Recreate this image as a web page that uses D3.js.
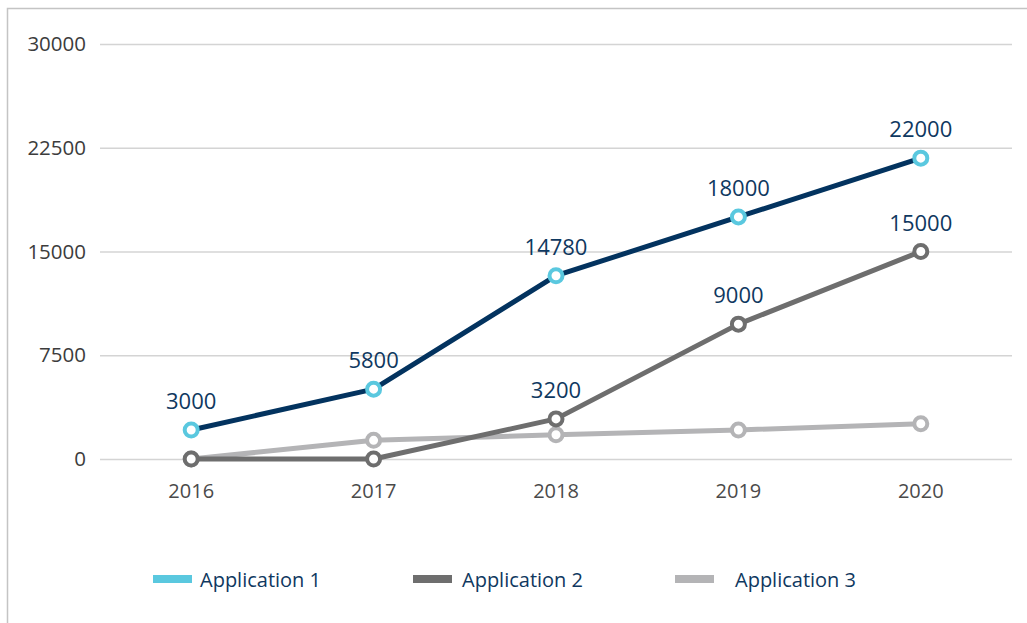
<!DOCTYPE html>
<html>
<head>
<meta charset="utf-8">
<script src="https://cdn.jsdelivr.net/npm/d3@7"></script>
<style>
  body { margin: 0; background: #fff; }
  svg text { font-family: "Open Sans", sans-serif; }
  .tick text { fill: #3c3c3c; font-size: 20.5px; font-family: "Open Sans", sans-serif; }
  .labels { fill: #0f3860; font-size: 22px; text-anchor: middle; }
  .legend-label { fill: #0f3860; font-size: 20px; }
</style>
</head>
<body>
<div id="wrapper"></div>
<script>
const years = ['2016', '2017', '2018', '2019', '2020'];
const seriesNames = ['Application 1', 'Application 2', 'Application 3'];
const app1Values = [2100, 5050, 13250, 17500, 21750];
const app2Values = [0, 0, 2900, 9750, 15000];
const app3Values = [0, 1350, 1750, 2100, 2550];
const app1Labels = ['3000', '5800', '14780', '18000', '22000'];
const app2Labels = [null, null, '3200', '9000', '15000'];
const yTicks = [0, 7500, 15000, 22500, 30000];

function drawChart() {
  let dimensions = {
    width: 1027,
    height: 623,
    margin: { top: 44, right: 15, bottom: 164, left: 100 },
  }
  dimensions.boundedWidth = dimensions.width - dimensions.margin.left - dimensions.margin.right;
  dimensions.boundedHeight = dimensions.height - dimensions.margin.top - dimensions.margin.bottom;

  const series = [
    { name: seriesNames[2], values: app3Values, labels: null, line: '#b4b4b6', marker: '#b4b4b6' },
    { name: seriesNames[1], values: app2Values, labels: app2Labels, line: '#6e6e6e', marker: '#6e6e6e' },
    { name: seriesNames[0], values: app1Values, labels: app1Labels, line: '#03335f', marker: '#5ac8df' },
  ];

  const wrapper = d3.select('#wrapper')
    .append('svg')
    .attr('width', dimensions.width)
    .attr('height', dimensions.height);

  // frame
  wrapper.append('path')
    .attr('d', `M7.5,${dimensions.height} V8.5 H${dimensions.width}`)
    .attr('fill', 'none')
    .attr('stroke', '#c4c4c4')
    .attr('stroke-width', 1.5);

  const bounds = wrapper.append('g')
    .style('transform', `translate(${dimensions.margin.left}px, ${dimensions.margin.top}px)`);

  const xScale = d3.scaleBand()
    .domain(years)
    .range([0, dimensions.boundedWidth]);
  const xPos = d => xScale(d) + xScale.bandwidth() / 2;

  const yScale = d3.scaleLinear()
    .domain([0, 30000])
    .range([dimensions.boundedHeight, 0]);

  // grid + y axis
  const yAxis = bounds.append('g')
    .call(d3.axisLeft(yScale).tickValues(yTicks).tickSize(-dimensions.boundedWidth).tickPadding(14).tickFormat(d => d));
  yAxis.select('.domain').remove();
  yAxis.selectAll('.tick line').attr('stroke', '#d4d4d4').attr('stroke-width', 1.5);

  const xAxis = bounds.append('g')
    .style('transform', `translateY(${dimensions.boundedHeight}px)`)
    .call(d3.axisBottom(xScale).tickSize(0).tickPadding(25));
  xAxis.select('.domain').remove();
  xAxis.selectAll('.tick text').style('fill', '#4a4a4a').style('font-size', '20px');

  const lineGen = d3.line()
    .x((d, i) => xPos(years[i]))
    .y(d => yScale(d));

  series.forEach(s => {
    bounds.append('path')
      .datum(s.values)
      .attr('d', lineGen)
      .attr('fill', 'none')
      .attr('stroke', s.line)
      .attr('stroke-width', 5)
      .attr('stroke-linejoin', 'round');

    bounds.selectAll(null)
      .data(s.values)
      .enter()
      .append('circle')
      .attr('cx', (d, i) => xPos(years[i]))
      .attr('cy', d => yScale(d))
      .attr('r', 6.5)
      .attr('fill', '#fff')
      .attr('stroke', s.marker)
      .attr('stroke-width', 4);

    if (s.labels) {
      const labelData = s.values
        .map((v, i) => ({ year: years[i], value: v, label: s.labels[i] }))
        .filter(d => d.label != null);
      bounds.selectAll(null)
        .data(labelData)
        .enter()
        .append('text')
        .attr('class', 'labels')
        .attr('x', d => xPos(d.year))
        .attr('y', d => yScale(d.value) - 21)
        .text(d => d.label);
    }
  });

  // legend
  const legendItems = [
    { name: seriesNames[0], color: '#5ac8df', x: 153, textX: 200 },
    { name: seriesNames[1], color: '#6e6e6e', x: 413, textX: 462 },
    { name: seriesNames[2], color: '#b4b4b6', x: 675, textX: 735 },
  ];
  const legend = wrapper.append('g');
  legend.selectAll('rect')
    .data(legendItems)
    .enter()
    .append('rect')
    .attr('x', d => d.x)
    .attr('y', 575)
    .attr('width', 39)
    .attr('height', 8)
    .attr('fill', d => d.color);
  legend.selectAll('text')
    .data(legendItems)
    .enter()
    .append('text')
    .attr('class', 'legend-label')
    .attr('x', d => d.textX)
    .attr('y', 587)
    .text(d => d.name);
}

drawChart();
</script>
</body>
</html>
